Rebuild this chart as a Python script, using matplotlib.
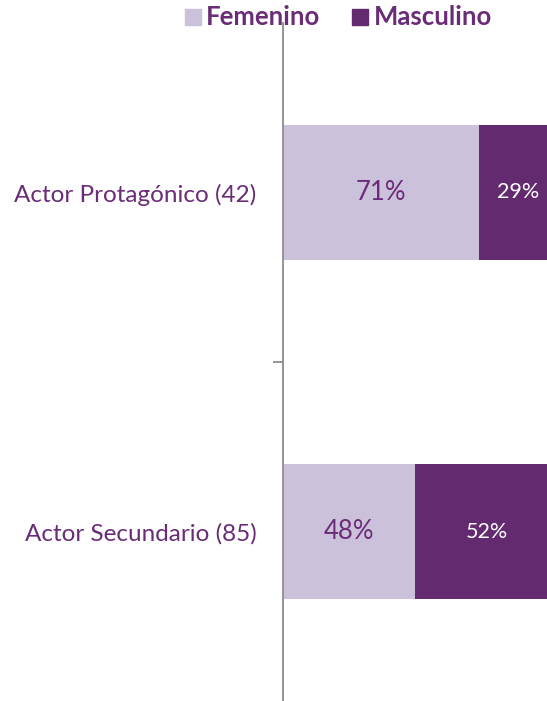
import matplotlib
matplotlib.use("Agg")
import matplotlib.pyplot as plt
from matplotlib.patches import Rectangle

plt.rcParams["font.family"] = ["Lato", "DejaVu Sans"]

# datos
categorias = ["Actor Protagónico (42)", "Actor Secundario (85)"]
femenino = [71, 48]
masculino = [29, 52]
series = ["Femenino", "Masculino"]

C_LIGHT = "#CBC1DB"
C_DARK = "#632A6F"
C_TEXT = "#6A2C77"

W, H = 547, 701
fig = plt.figure(figsize=(W / 100, H / 100), dpi=100)
ax = fig.add_axes([283 / W, 0, (W - 283) / W, 678 / H])

y = list(range(len(categorias)))
ax.barh(y, femenino, height=0.4, color=C_LIGHT)
ax.barh(y, masculino, left=femenino, height=0.4, color=C_DARK)

for i in y:
    ax.text(femenino[i] / 2, i, f"{femenino[i]}%", ha="center", va="center",
            fontsize=18.5, color=C_TEXT)
    ax.text(femenino[i] + masculino[i] / 2, i, f"{masculino[i]}%", ha="center",
            va="center", fontsize=15.5, color="white")

ax.set_xlim(0, 100 * (W - 283) / 275.5)
ax.set_ylim(1.5, -0.5)
ax.set_yticks(y)
ax.set_yticklabels(categorias, fontsize=17.5, color=C_TEXT)
ax.set_yticks([0.5], minor=True)
ax.tick_params(axis="y", which="major", length=0, pad=19)
ax.tick_params(axis="y", which="minor", length=7, width=1.3, color="#8c8c8c")
ax.set_xticks([])
for s in ["top", "right", "bottom"]:
    ax.spines[s].set_visible(False)
ax.spines["left"].set_color("#8c8c8c")
ax.spines["left"].set_linewidth(1.3)

# leyenda arriba
fig.patches.append(Rectangle((185 / W, 1 - 25 / H), 16 / W, 16 / H,
                             transform=fig.transFigure, color=C_LIGHT))
fig.text(206 / W, 1 - 17 / H, series[0], fontsize=18.5, weight="bold",
         color=C_TEXT, va="center", ha="left")
fig.patches.append(Rectangle((352 / W, 1 - 25 / H), 16 / W, 16 / H,
                             transform=fig.transFigure, color=C_DARK))
fig.text(374 / W, 1 - 17 / H, series[1], fontsize=18.5, weight="bold",
         color=C_TEXT, va="center", ha="left")

fig.savefig("out.png", dpi=100, facecolor="white")
